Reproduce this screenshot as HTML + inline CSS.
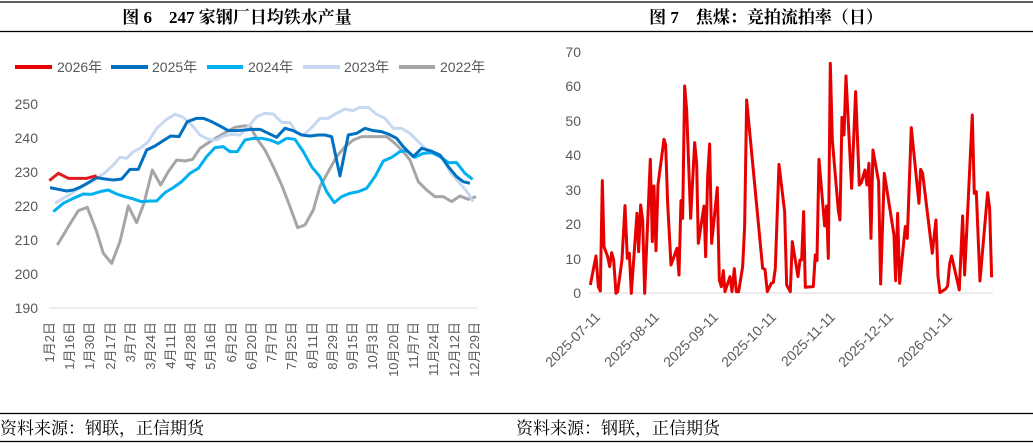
<!DOCTYPE html>
<html><head><meta charset="utf-8"><style>
html,body{margin:0;padding:0;background:#fff;}
svg{display:block;font-family:"Liberation Sans","Noto Sans CJK SC",sans-serif;}
.t{font-family:"Liberation Serif","Noto Serif CJK SC",serif;font-weight:bold;font-size:17px;fill:#000;}
.s{font-family:"Liberation Serif","Noto Serif CJK SC",serif;font-size:17px;fill:#000;}
.ax{font-size:14px;fill:#595959;}
.xl{font-size:13px;fill:#595959;}
.xr{font-size:14px;fill:#595959;}
polyline{fill:none;stroke-linejoin:round;vector-effect:non-scaling-stroke;}
</style></head><body>
<svg width="1033" height="446" viewBox="0 0 1033 446">
<g stroke="#000" stroke-width="1.3">
<line x1="0" y1="2" x2="1033" y2="2"/><line x1="0" y1="31.5" x2="1033" y2="31.5"/>
<line x1="0" y1="413.5" x2="1033" y2="413.5"/><line x1="0" y1="441.5" x2="1033" y2="441.5"/>
</g>
<text class="t" x="237" y="23" text-anchor="middle">图 6　247 家钢厂日均铁水产量</text>
<text class="t" x="766" y="23" text-anchor="middle">图 7　焦煤：竞拍流拍率（日）</text>
<text class="s" x="0" y="434">资料来源：钢联，正信期货</text>
<text class="s" x="516" y="434">资料来源：钢联，正信期货</text>

<!-- left chart -->
<line x1="49" y1="308" x2="477" y2="308" stroke="#d9d9d9"/>
<g class="ax" text-anchor="end">
<text x="38" y="75">260</text><text x="38" y="109">250</text><text x="38" y="143">240</text><text x="38" y="177">230</text><text x="38" y="211">220</text><text x="38" y="245">210</text><text x="38" y="279">200</text><text x="38" y="313">190</text>
</g>
<rect x="10" y="56" width="480" height="20" fill="#fff"/>
<g class="xl" text-anchor="end">
<text transform="translate(54,322) rotate(-90)">1月2日</text>
<text transform="translate(74,322) rotate(-90)">1月16日</text>
<text transform="translate(94,322) rotate(-90)">1月30日</text>
<text transform="translate(115,322) rotate(-90)">2月17日</text>
<text transform="translate(135,322) rotate(-90)">3月7日</text>
<text transform="translate(155,322) rotate(-90)">3月24日</text>
<text transform="translate(175,322) rotate(-90)">4月11日</text>
<text transform="translate(195,322) rotate(-90)">4月28日</text>
<text transform="translate(215,322) rotate(-90)">5月16日</text>
<text transform="translate(236,322) rotate(-90)">6月2日</text>
<text transform="translate(256,322) rotate(-90)">6月20日</text>
<text transform="translate(276,322) rotate(-90)">7月7日</text>
<text transform="translate(296,322) rotate(-90)">7月25日</text>
<text transform="translate(317,322) rotate(-90)">8月11日</text>
<text transform="translate(337,322) rotate(-90)">8月29日</text>
<text transform="translate(357,322) rotate(-90)">9月15日</text>
<text transform="translate(377,322) rotate(-90)">10月3日</text>
<text transform="translate(398,322) rotate(-90)">10月20日</text>
<text transform="translate(418,322) rotate(-90)">11月7日</text>
<text transform="translate(438,322) rotate(-90)">11月24日</text>
<text transform="translate(459,322) rotate(-90)">12月12日</text>
<text transform="translate(479,322) rotate(-90)">12月29日</text>
</g>
<g transform="scale(0.3333)">
<polyline stroke="#a6a6a6" stroke-width="3" points="172,735 205,680 235,632 262,622 290,695 310,760 335,790 360,725 385,618 410,668 432,610 457,510 482,555 505,515 530,480 555,483 578,478 600,445 630,425 655,410 680,395 705,382 730,378 750,378 770,415 795,450 820,500 845,555 870,620 893,683 915,675 940,630 960,560 985,515 1010,470 1035,440 1060,420 1085,410 1110,410 1135,410 1160,410 1185,430 1210,455 1230,480 1255,545 1280,570 1305,590 1330,590 1355,605 1380,588 1405,598 1428,590"/>
<polyline stroke="#c6d9f1" stroke-width="3" points="165,610 190,595 215,580 240,563 265,550 290,535 315,518 340,495 360,472 380,475 400,455 420,445 445,425 470,385 500,358 525,343 550,352 575,375 600,405 625,418 650,420 672,408 695,403 720,405 745,380 770,350 795,340 820,342 845,367 870,368 890,398 910,405 935,383 960,355 985,355 1010,340 1035,327 1060,332 1080,322 1105,322 1130,343 1155,355 1180,385 1205,385 1230,400 1255,425 1280,450 1305,460 1330,475 1350,515 1375,545 1400,573 1420,605"/>
<polyline stroke="#00b0f0" stroke-width="3" points="160,635 190,610 220,595 250,582 275,583 300,575 325,570 350,582 375,590 400,597 425,605 450,603 470,603 495,578 520,563 545,545 570,520 595,505 620,470 645,443 670,440 690,455 712,455 735,420 760,415 785,415 810,420 835,430 860,415 885,418 910,455 935,500 960,530 980,575 1003,608 1025,590 1050,580 1075,575 1100,565 1125,530 1150,483 1175,472 1200,455 1220,452 1245,472 1270,460 1295,458 1320,470 1345,488 1370,488 1395,520 1418,538"/>
<polyline stroke="#0070c0" stroke-width="3" points="150,563 175,568 200,573 220,570 240,562 265,548 290,533 315,537 340,540 365,537 390,508 415,508 440,450 465,438 490,422 512,408 537,410 562,365 590,355 610,355 635,365 660,378 685,392 710,392 735,390 755,388 780,388 805,400 830,412 855,385 880,392 905,405 930,408 955,405 975,405 995,410 1020,528 1045,405 1070,400 1095,385 1120,392 1145,395 1165,402 1190,415 1210,440 1240,470 1265,445 1290,452 1320,465 1345,500 1370,530 1390,545 1410,550"/>
<polyline stroke="#e31a1c" stroke-width="3" points="148,542 175,520 205,535 230,535 260,535 290,527"/>
</g>
<g font-size="14" fill="#595959">
<line x1="15" y1="67" x2="52" y2="67" stroke="#e60000" stroke-width="4"/><text x="57" y="72">2026年</text>
<line x1="111" y1="67" x2="148" y2="67" stroke="#0070c0" stroke-width="4"/><text x="152" y="72">2025年</text>
<line x1="207" y1="67" x2="243" y2="67" stroke="#00b0f0" stroke-width="4"/><text x="248" y="72">2024年</text>
<line x1="303" y1="67" x2="340" y2="67" stroke="#c6d9f1" stroke-width="4"/><text x="344" y="72">2023年</text>
<line x1="399" y1="67" x2="435" y2="67" stroke="#a6a6a6" stroke-width="4"/><text x="440" y="72">2022年</text>
</g>

<!-- right chart -->
<line x1="590" y1="293" x2="993" y2="293" stroke="#d9d9d9"/>
<g class="ax" text-anchor="end">
<text x="581" y="57">70</text><text x="581" y="91">60</text><text x="581" y="126">50</text><text x="581" y="160">40</text><text x="581" y="195">30</text><text x="581" y="229">20</text><text x="581" y="264">10</text><text x="581" y="298">0</text>
</g>
<g class="xr" text-anchor="end">
<text transform="translate(601,318) rotate(-45)">2025-07-11</text>
<text transform="translate(660,318) rotate(-45)">2025-08-11</text>
<text transform="translate(719,318) rotate(-45)">2025-09-11</text>
<text transform="translate(777,318) rotate(-45)">2025-10-11</text>
<text transform="translate(836,318) rotate(-45)">2025-11-11</text>
<text transform="translate(894,318) rotate(-45)">2025-12-11</text>
<text transform="translate(953,318) rotate(-45)">2026-01-11</text>
</g>
<g transform="translate(516,0) scale(0.3333)">
<polyline stroke="#e60000" stroke-width="3" points="223,855 240,768 247,860 253,873 259,542 264,740 275,770 281,800 287,758 293,780 300,880 305,875 318,780 327,617 334,775 340,760 346,880 363,640 368,755 374,615 380,660 386,880 397,620 403,478 409,725 414,558 420,752 426,555 444,418 449,435 455,610 465,795 483,745 489,825 495,602 500,655 506,258 512,330 524,655 536,428 542,490 547,730 564,618 569,770 575,530 581,432 587,730 604,563 610,840 616,860 622,812 627,875 642,830 648,875 655,806 661,875 668,875 680,800 686,680 692,300 740,805 747,808 754,875 766,850 772,848 778,805 789,493 806,635 812,855 823,875 829,725 846,830 852,780 857,780 863,635 868,862 892,860 898,765 903,782 909,478 926,678 932,618 937,775 943,190 949,420 967,630 972,660 978,352 984,405 990,228 1007,565 1019,275 1030,555 1036,548 1047,510 1053,555 1059,490 1065,715 1071,450 1088,545 1094,852 1105,520 1134,705 1139,842 1145,640 1151,850 1168,680 1174,715 1186,383 1209,610 1214,508 1220,520 1249,760 1260,660 1266,828 1272,878 1289,867 1295,858 1301,792 1307,768 1330,870 1340,648 1346,825 1369,345 1375,580 1381,575 1392,843 1415,578 1421,625 1427,832"/>
</g>
</svg>
</body></html>
